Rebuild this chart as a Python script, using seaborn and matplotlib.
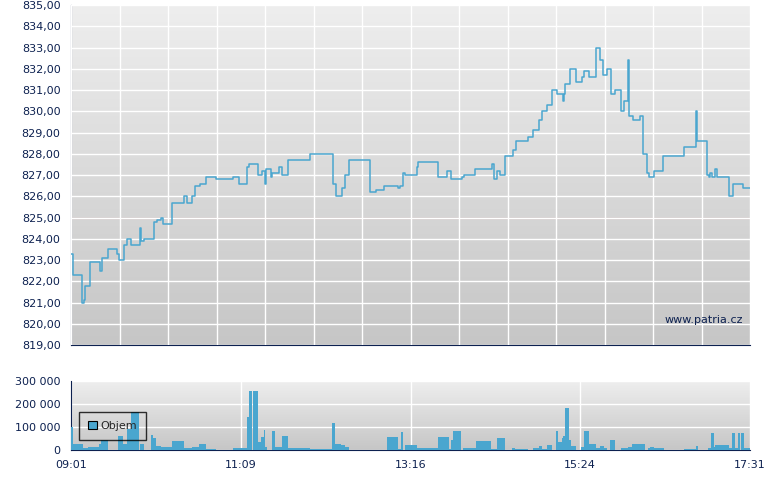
import numpy as np
import pandas as pd
import matplotlib
matplotlib.use("Agg")
import matplotlib.pyplot as plt
from matplotlib.colors import LinearSegmentedColormap
import seaborn as sns

# price: minutes after 09:01, step values
price_min = [0, 1.2, 8, 9.8, 10.8, 14.3, 21.8, 23.5, 28, 34.3, 35.8, 39.8, 41.8, 45, 51.8, 52.3, 53, 55,
             62.3, 64.3, 67.6, 69.3, 75.9, 84.9, 87.4, 91.1, 93.4, 96.9, 101.4, 108.9, 121.4, 126.2,
             132, 133.5, 140.2, 143.2, 145.5, 146.2, 150, 151.2, 156.2, 158.2, 162.7, 179.5, 196.5,
             199, 203.8, 205.8, 208.6, 224.6, 229.1, 235.1, 245.4, 247.3, 249.1, 250.9, 259.6,
             261, 275.9, 282.6, 285.2, 293.4, 295.2, 303.7, 316, 317.7, 320.2, 322.2, 326, 332.2,
             334.2, 343.5, 347.2, 351.5, 354, 357.3, 361, 364.8, 369.3, 370, 371.3, 374.8, 379.1,
             384.1, 385.5, 389.3, 394.1, 397.1, 399.8, 402.4, 405.4, 408.6, 412.9, 415.6, 418.4,
             418.9, 421.9, 427.4, 429.9, 432.9, 434.4, 437.9, 444.9, 460.7, 469.4, 470.4, 477.5,
             479, 480, 481.2, 483.5, 485, 494.4, 496.9, 504.9, 510]
price_val = [823.3, 822.3, 821.0, 821.1, 821.8, 822.9, 822.5, 823.1, 823.5, 823.3, 823.0, 823.7, 824.0,
             823.7, 824.5, 823.9, 823.9, 824.0, 824.8, 824.9, 825.0, 824.7, 825.7, 826.0, 825.7,
             826.0, 826.5, 826.6, 826.9, 826.8, 826.9, 826.6, 827.4, 827.5, 827.0, 827.2, 826.6,
             827.3, 826.9, 827.1, 827.4, 827.0, 827.7, 828.0, 826.6, 826.0, 826.4, 827.0, 827.7,
             826.2, 826.3, 826.5, 826.4, 826.5, 827.1, 827.0, 827.4, 827.6, 826.9, 827.2, 826.8,
             826.9, 827.0, 827.3, 827.5, 826.8, 827.2, 827.0, 827.9, 828.2, 828.6, 828.8, 829.1,
             829.6, 830.0, 830.3, 831.0, 830.8, 830.5, 830.8, 831.3, 832.0, 831.4, 831.6, 831.9,
             831.6, 833.0, 832.4, 831.7, 832.0, 830.8, 831.0, 830.0, 830.5, 832.4, 829.8, 829.6,
             829.8, 828.0, 827.1, 826.9, 827.2, 827.9, 828.3, 830.0, 828.6, 827.0, 826.9, 827.1,
             826.9, 827.3, 826.9, 826.0, 826.6, 826.4, 826.4]
ref_price = 825.0

vol_start = [0, 1.5, 9, 13, 21.3, 22.8, 35.1, 39.3, 41.9, 43.4, 44.9, 52, 59.8, 61.7, 63.6, 67.3, 75.5,
             84.9, 90.8, 96.4, 101.3, 121.5, 126.4, 132.3, 133.8, 136.8, 140.2, 142.8, 144.7, 145.8,
             151, 152.9, 158.5, 163, 179.4, 195.9, 198.1, 202.6, 206, 237.4, 245.6, 247.9, 250.8,
             259.8, 275.5, 283.7, 285.6, 286.7, 294.6, 303.9, 315.5, 319.6, 321.1, 331.6, 333.8,
             347.3, 351.8, 353.6, 357.4, 364.1, 365.6, 368.6, 369.7, 371.2, 374.2, 375.3, 383.2,
             385.4, 389.2, 394, 397, 400, 404.9, 413.1, 418.3, 421.3, 428.8, 433.3, 434.8, 438.1,
             460.6, 469.2, 478.5, 480.7, 482.6, 483.7, 494.2, 496.8, 499.1, 501, 503.2, 505.4, 506.9]
vol_end = [1.5, 9, 13, 21.3, 22.8, 27.7, 39.3, 41.9, 43.4, 44.9, 51.2, 54.6, 61.7, 63.6, 67.3, 75.5, 84.9,
           90.8, 96.4, 101.3, 108.8, 126.4, 132.3, 133.8, 135.8, 140.2, 142.8, 144.7, 145.8, 146.9,
           152.9, 158.5, 163, 179.4, 195.9, 198.1, 202.6, 206, 208.6, 245.6, 247.9, 249.3, 259.8,
           275.5, 283.7, 285.6, 286.7, 293.1, 303.9, 315.5, 319.6, 321.1, 326, 333.8, 343.6,
           351.8, 353.6, 357.4, 361.5, 365.6, 368.6, 369.7, 371.2, 374.2, 375.3, 379.1, 385.4,
           389.2, 394, 397, 400, 402.6, 408.4, 418.3, 421.3, 428.8, 431.4, 434.8, 438.1, 445.6,
           469.2, 471, 480.7, 482.6, 483.7, 494.2, 496.8, 499.1, 501, 502.2, 505.4, 506.9, 510]
vol_val = [100000, 27000, 7000, 14000, 25000, 45000, 61000, 27000, 91000, 91000, 166000, 27000, 66000,
           53000, 19000, 14000, 40000, 7000, 12000, 27000, 6000, 10000, 7000, 144000, 257000, 257000,
           36000, 58000, 88000, 14000, 84000, 14000, 62000, 10000, 6000, 118000, 27000, 23000, 14000,
           58000, 6000, 79000, 23000, 10000, 58000, 6000, 45000, 84000, 10000, 37000, 6000, 53000,
           53000, 10000, 6000, 10000, 17000, 6000, 23000, 84000, 36000, 53000, 62000, 182000, 45000,
           19000, 14000, 84000, 27000, 10000, 19000, 10000, 45000, 10000, 14000, 27000, 27000, 10000,
           14000, 10000, 6000, 17000, 10000, 72000, 14000, 23000, 10000, 72000, 10000, 72000, 72000,
           10000, 10000]
x_labels = ["09:01", "11:09", "13:16", "15:24", "17:31"]
total_min = 510

plt.rcParams["font.family"] = "Liberation Sans"
sns.set_style("white")
navy = "#0d2150"
blue = "#4aa6cf"
fig = plt.figure(figsize=(7.8, 4.9), dpi=100)
ax = fig.add_axes([71/780, 1-345/490, 679/780, 340/490])
axv = fig.add_axes([71/780, 1-450/490, 679/780, 69/490])

cmap = LinearSegmentedColormap.from_list("g", ["#eeeeee", "#c6c6c6"])
grad = np.linspace(0, 1, 256).reshape(-1, 1)
for a in (ax, axv):
    a.imshow(grad, cmap=cmap, aspect="auto", extent=[0, 1, 0, 1], transform=a.transAxes, zorder=0)
    for s in ("top", "right"):
        a.spines[s].set_visible(False)
    for s in ("left", "bottom"):
        a.spines[s].set_color(navy)
    a.tick_params(colors=navy, labelsize=8, length=4, direction="out")
    a.set_xlim(0, total_min)

df = pd.DataFrame({"t": price_min, "p": price_val})
ax.grid(True, color="white", lw=1, zorder=1)
ax.set_axisbelow(False)
sns.lineplot(data=df, x="t", y="p", ax=ax, drawstyle="steps-post", color=blue, lw=1.1, zorder=3)
ax.axhline(ref_price, color="#b03a3a", lw=0.8, zorder=2)
ax.set_ylim(819, 835)
ax.set_yticks(np.arange(819, 836, 1))
ax.set_yticklabels([f"{v:.2f}".replace(".", ",") for v in np.arange(819, 836, 1)])
ax.set_xticks(np.linspace(0, total_min, 15))
ax.set_xticklabels([])
ax.set_xlabel(""); ax.set_ylabel("")
ax.text(0.99, 0.06, "www.patria.cz", transform=ax.transAxes, ha="right", va="bottom", fontsize=8, color=navy, zorder=4)

widths = [e - s for s, e in zip(vol_start, vol_end)]
axv.grid(True, color="white", lw=1, zorder=1)
axv.bar(vol_start, vol_val, width=widths, align="edge", color=blue, lw=0, zorder=3, label="Objem")
axv.set_ylim(0, 300000)
axv.set_yticks([0, 100000, 200000, 300000])
axv.set_yticklabels(["0", "100 000", "200 000", "300 000"])
axv.set_xticks(np.linspace(0, total_min, 5))
axv.set_xticklabels(x_labels)
leg = axv.legend(loc="upper left", bbox_to_anchor=(0.004, 0.63), frameon=True, fancybox=False,
                 fontsize=8, handlelength=0.8, handleheight=0.8, borderpad=0.8, handletextpad=0.3)
leg.get_frame().set_edgecolor("black")
leg.get_frame().set_facecolor("none")
leg.legend_handles[0].set_edgecolor("black")
leg.legend_handles[0].set_linewidth(0.8)

fig.savefig("out.png", dpi=100)
